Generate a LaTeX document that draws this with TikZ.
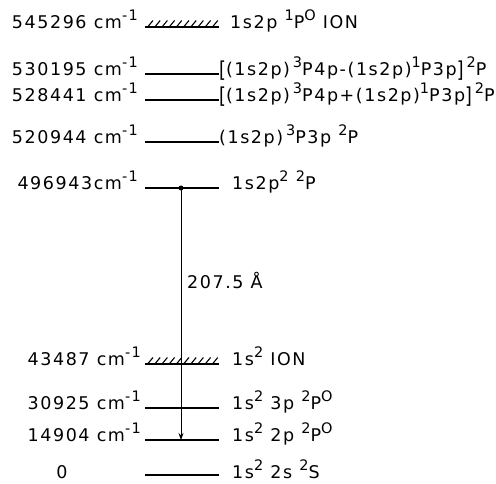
\documentclass[tikz,border=0pt]{standalone}
\usepackage{fontspec}
\usepackage{graphicx}
\usetikzlibrary{arrows.meta}
\setmainfont{DejaVu Sans}[LetterSpace=9]
\newcommand\upx[1]{\raisebox{0.42em}{\fontsize{14.5}{14.5}\selectfont #1}}
\newcommand\bigbr[1]{\raisebox{-0.15em}{\scalebox{1}[1.25]{#1}}}
\begin{document}
\begin{tikzpicture}[x=1pt,y=-1pt,
  lvl/.style={line width=2.8pt},
  ionl/.style={line width=1.8pt},
  hatch/.style={line width=1.1pt},
  lab/.style={inner sep=0pt,font=\fontsize{17.5}{20}\selectfont},
  trans/.style={line width=0.7pt,-{Stealth[length=7pt,width=5pt]}}]
\useasboundingbox (0,0) rectangle (496,483);
% levels
\foreach \y/\n in {74/l2,100/l3,142/l4,188/l5,408/l7,440/l8,475/l9}{
  \draw[lvl] (145,\y) coordinate (\n w) -- (219,\y) coordinate (\n e);
}
\foreach \y/\n in {27/l1,364/l6}{
  \draw[ionl] (145,\y) coordinate (\n w) -- (219,\y) coordinate (\n e);
  \foreach \i in {0,...,9}{
    \draw[hatch] (148+\i*7.2,\y-0.5) -- ++(5,-6);
  }
}
% left labels
\node[lab,anchor=base east] (t1) at (138,28) {545296 cm\upx{-1}};
\node[lab,anchor=base east] (t2) at (138,75) {530195 cm\upx{-1}};
\node[lab,anchor=base east] (t3) at (138,101) {528441 cm\upx{-1}};
\node[lab,anchor=base east] (t4) at (138,143) {520944 cm\upx{-1}};
\node[lab,anchor=base east] (t5) at (138,189) {496943cm\upx{-1}};
\node[lab,anchor=base east] (t6) at (141,365) {43487 cm\upx{-1}};
\node[lab,anchor=base east] (t7) at (141,409) {30925 cm\upx{-1}};
\node[lab,anchor=base east] (t8) at (141,441) {14904 cm\upx{-1}};
\node[lab,anchor=base] (t9) at (62,478) {0};
% right labels
\node[lab,anchor=base west] (r1) at (230,28) {1s2p \upx{1}P\upx{O} ION};
\node[lab,anchor=base west] (r2) at (219,75) {\bigbr{[}(1s2p)\,\upx{3}P4p-(1s2p)\upx{1}P3p\bigbr{]}\,\upx{2}P};
\node[lab,anchor=base west] (r3) at (219,101) {\bigbr{[}(1s2p)\,\upx{3}P4p+(1s2p)\upx{1}P3p\bigbr{]}\,\upx{2}P};
\node[lab,anchor=base west] (r4) at (219,143) {(1s2p)\,\upx{3}P3p \upx{2}P};
\node[lab,anchor=base west] (r5) at (232,189) {1s2p\upx{2} \upx{2}P};
\node[lab,anchor=base west] (r6) at (232,365) {1s\upx{2} ION};
\node[lab,anchor=base west] (r7) at (232,409) {1s\upx{2} 3p \upx{2}P\upx{O}};
\node[lab,anchor=base west] (r8) at (232,441) {1s\upx{2} 2p \upx{2}P\upx{O}};
\node[lab,anchor=base west] (r9) at (232,478) {1s\upx{2} 2s \upx{2}S};
% transition
\coordinate (a) at (181,188);
\coordinate (b) at (181,440);
\draw[trans] (a) -- (b);
\fill (a) circle (2.5pt);
\node[lab,anchor=west] (w) at (187,280) {207.5 Å};
\end{tikzpicture}
\end{document}
